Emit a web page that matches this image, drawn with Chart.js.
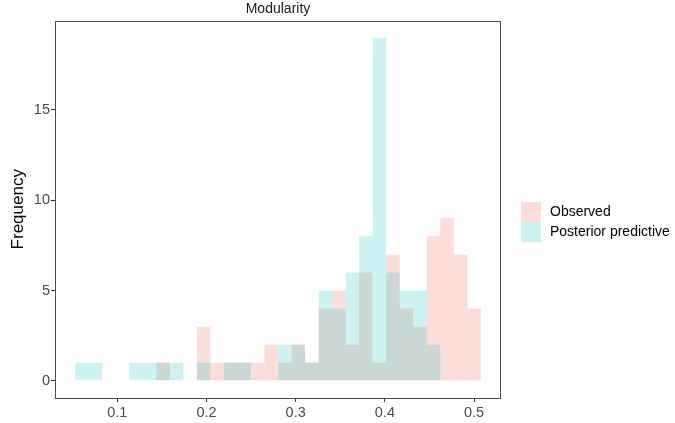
<!DOCTYPE html>
<html>
<head>
<meta charset="utf-8">
<script src="https://cdn.jsdelivr.net/npm/chart.js@4"></script>
<style>
  html, body { margin: 0; padding: 0; background: #ffffff; }
  #wrap { width: 675px; height: 423px; }
</style>
</head>
<body>
<div id="wrap"><canvas id="chart" width="675" height="423"></canvas></div>
<script>
// Histogram of modularity: 30 equal-width bins shared by both groups
const binStart = 0.0528;
const binWidth = 0.01516;
const observedCounts   = [0,0,0,0,0,0,1,0,0,3,1,1,1,1,2,1,2,1,4,5,2,6,1,7,4,3,8,9,7,4];
const predictiveCounts = [1,1,0,0,1,1,1,1,0,1,0,1,1,0,0,2,2,1,5,4,6,8,19,6,5,5,2,0,0,0];
const seriesNames = ['Observed', 'Posterior predictive'];
const xTicks = [0.1, 0.2, 0.3, 0.4, 0.5];
const yTicks = [0, 5, 10, 15];
const panelTitle = 'Modularity';
const yTitle = 'Frequency';

const FONT = '"Liberation Sans", Arial, Helvetica, sans-serif';
const binCenters = observedCounts.map((_, i) => binStart + (i + 0.5) * binWidth);
const toPoints = counts => counts.map((c, i) => ({ x: binCenters[i], y: c }));

// Panel title, full panel border and the key on the right
const decorations = {
  id: 'decorations',
  afterDatasetsDraw(chart) {
    const { ctx, chartArea: a } = chart;
    ctx.save();
    ctx.strokeStyle = '#4d4d4d';
    ctx.lineWidth = 1;
    ctx.strokeRect(Math.round(a.left) + 0.5, Math.round(a.top) + 0.5,
                   Math.round(a.right - a.left) - 1, Math.round(a.bottom - a.top) - 1);

    ctx.fillStyle = '#1a1a1a';
    ctx.font = '14px ' + FONT;
    ctx.textAlign = 'center';
    ctx.textBaseline = 'middle';
    ctx.fillText(panelTitle, (a.left + a.right) / 2, 9.5);

    const keyX = 521, keyY = 202, keyW = 20, keyH = 20;
    chart.data.datasets.forEach((ds, i) => {
      const y = keyY + i * keyH;
      ctx.fillStyle = ds.backgroundColor;
      ctx.fillRect(keyX, y, keyW, keyH);
      ctx.fillStyle = '#000000';
      ctx.textAlign = 'left';
      ctx.fillText(ds.label, 550, y + keyH / 2 + 0.5);
    });
    ctx.restore();
  }
};

const barStyle = {
  borderWidth: 0,
  grouped: false,
  inflateAmount: 0,
  barPercentage: 1,
  categoryPercentage: 1
};

new Chart(document.getElementById('chart'), {
  type: 'bar',
  data: {
    datasets: [
      Object.assign({
        label: seriesNames[0],
        data: toPoints(observedCounts),
        backgroundColor: 'rgba(248,118,109,0.25)',
        order: 1
      }, barStyle),
      Object.assign({
        label: seriesNames[1],
        data: toPoints(predictiveCounts),
        backgroundColor: 'rgba(0,191,196,0.2)',
        order: 0
      }, barStyle)
    ]
  },
  options: {
    responsive: false,
    devicePixelRatio: 1,
    animation: false,
    events: [],
    layout: { padding: { left: 0, right: 174, top: 20.5, bottom: 0 } },
    plugins: {
      legend: { display: false },
      tooltip: { enabled: false },
      title: { display: false }
    },
    scales: {
      x: {
        type: 'linear',
        offset: false,
        min: 0.0301,
        max: 0.5302,
        afterFit: s => { s.height = 25; },
        afterBuildTicks: s => { s.ticks = xTicks.map(v => ({ value: v })); },
        border: { display: false },
        grid: { offset: false, drawOnChartArea: false, drawTicks: true, tickLength: 4, tickColor: '#333333', tickWidth: 1 },
        ticks: {
          color: '#4d4d4d',
          font: { family: FONT, size: 14.5 },
          padding: 2,
          maxRotation: 0,
          autoSkip: false,
          callback: v => String(v)
        }
      },
      y: {
        type: 'linear',
        min: -0.95,
        max: 19.95,
        afterFit: s => { s.width = 55; },
        afterBuildTicks: s => { s.ticks = yTicks.map(v => ({ value: v })); },
        border: { display: false },
        grid: { drawOnChartArea: false, drawTicks: true, tickLength: 4, tickColor: '#333333', tickWidth: 1 },
        ticks: {
          color: '#4d4d4d',
          font: { family: FONT, size: 14.5 },
          padding: 1,
          autoSkip: false,
          callback: v => String(v)
        },
        title: {
          display: true,
          text: yTitle,
          color: '#000000',
          font: { family: FONT, size: 17 },
          padding: { top: 8, bottom: 0 }
        }
      }
    }
  },
  plugins: [decorations]
});
</script>
</body>
</html>
